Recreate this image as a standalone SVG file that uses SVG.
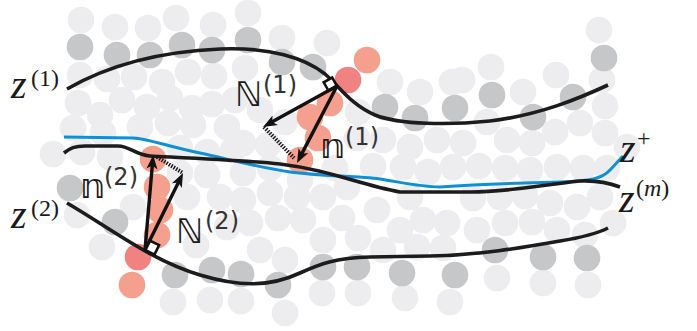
<svg xmlns="http://www.w3.org/2000/svg" width="697" height="331" viewBox="0 0 697 331">
<style>
.l{fill:#ededef}.d{fill:#c6c7c9}.s{fill:#f5a08e}.r{fill:#f08282}
.cv{fill:none;stroke:#1c1c1c;stroke-width:3.6;stroke-linecap:butt}
.bl{fill:none;stroke:#0f8fd8;stroke-width:3}
.ar{fill:none;stroke:#111;stroke-width:3.4}
.dt{fill:none;stroke:#111;stroke-width:4;stroke-dasharray:1.4 1.4}
.sq{fill:#fff;stroke:#111;stroke-width:2.6}
.zi{font-family:"Liberation Serif",serif;font-style:italic;font-size:40px;fill:#1a1a1a}
.zs{font-family:"Liberation Serif",serif;font-size:24px;fill:#1a1a1a}
.bb{font-family:"DejaVu Sans",sans-serif;font-size:34px;fill:#1a1a1a}
.bs{font-family:"DejaVu Sans",sans-serif;font-size:24px;fill:#333}
</style>
<defs>
<marker id="ah" markerUnits="userSpaceOnUse" markerWidth="20" markerHeight="20" refX="0" refY="0" viewBox="-8 -8 20 16" orient="auto" overflow="visible">
<path d="M8,0 L-6,-5.5 L-2.5,0 L-6,5.5 Z" fill="#111"/>
</marker>
</defs>
<g id="particles">
<g class="l">
<circle cx="81" cy="20" r="13.3"/><circle cx="115" cy="27" r="13.3"/><circle cx="148" cy="28" r="13.3"/><circle cx="176" cy="18" r="13.3"/><circle cx="213" cy="25" r="13.3"/><circle cx="248" cy="13" r="13.3"/><circle cx="282" cy="38" r="13.3"/><circle cx="327" cy="43" r="13.3"/>
<circle cx="599" cy="30" r="13.3"/><circle cx="491" cy="67" r="13.3"/><circle cx="556" cy="75" r="13.3"/><circle cx="602" cy="80" r="13.3"/><circle cx="462" cy="80" r="13.3"/><circle cx="390" cy="82" r="13.3"/><circle cx="420" cy="92" r="13.3"/><circle cx="452" cy="82" r="13.3"/><circle cx="523" cy="92" r="13.3"/><circle cx="605" cy="106" r="13.3"/>
<circle cx="80" cy="75" r="13.3"/><circle cx="107" cy="79" r="13.3"/><circle cx="134" cy="77" r="13.3"/><circle cx="162" cy="82" r="13.3"/><circle cx="188" cy="72" r="13.3"/><circle cx="214" cy="76" r="13.3"/><circle cx="245" cy="68" r="13.3"/>
<circle cx="78" cy="103" r="13.3"/><circle cx="100" cy="115" r="13.3"/><circle cx="122" cy="100" r="13.3"/><circle cx="147" cy="107" r="13.3"/><circle cx="170" cy="98" r="13.3"/><circle cx="192" cy="108" r="13.3"/><circle cx="212" cy="104" r="13.3"/><circle cx="235" cy="100" r="13.3"/><circle cx="260" cy="110" r="13.3"/>
<circle cx="73" cy="128" r="13.3"/><circle cx="103" cy="133" r="13.3"/><circle cx="140" cy="127" r="13.3"/><circle cx="168" cy="123" r="13.3"/><circle cx="193" cy="125" r="13.3"/><circle cx="227" cy="127" r="13.3"/>
<circle cx="53" cy="154" r="13.3"/><circle cx="82" cy="152" r="13.3"/><circle cx="110" cy="157" r="13.3"/><circle cx="180" cy="148" r="13.3"/><circle cx="207" cy="152" r="13.3"/><circle cx="233" cy="150" r="13.3"/>
<circle cx="243" cy="143" r="13.3"/><circle cx="268" cy="145" r="13.3"/><circle cx="285" cy="122" r="13.3"/><circle cx="358" cy="112" r="13.3"/><circle cx="357" cy="138" r="13.3"/><circle cx="383" cy="140" r="13.3"/><circle cx="410" cy="147" r="13.3"/><circle cx="437" cy="140" r="13.3"/><circle cx="463" cy="143" r="13.3"/>
<circle cx="487" cy="122" r="13.3"/><circle cx="580" cy="123" r="13.3"/><circle cx="507" cy="140" r="13.3"/><circle cx="532" cy="143" r="13.3"/><circle cx="555" cy="132" r="13.3"/><circle cx="605" cy="133" r="13.3"/><circle cx="627" cy="147" r="13.3"/>
<circle cx="373" cy="166" r="13.3"/><circle cx="403" cy="167" r="13.3"/><circle cx="428" cy="172" r="13.3"/><circle cx="453" cy="167" r="13.3"/><circle cx="479" cy="166" r="13.3"/><circle cx="505" cy="168" r="13.3"/><circle cx="530" cy="170" r="13.3"/><circle cx="557" cy="167" r="13.3"/><circle cx="583" cy="168" r="13.3"/><circle cx="607" cy="168" r="13.3"/>
<circle cx="243" cy="173" r="13.3"/><circle cx="270" cy="168" r="13.3"/><circle cx="300" cy="180" r="13.3"/><circle cx="335" cy="168" r="13.3"/>
<circle cx="243" cy="200" r="13.3"/><circle cx="270" cy="193" r="13.3"/><circle cx="297" cy="197" r="13.3"/><circle cx="323" cy="197" r="13.3"/><circle cx="347" cy="187" r="13.3"/><circle cx="377" cy="210" r="13.3"/><circle cx="410" cy="197" r="13.3"/><circle cx="423" cy="220" r="13.3"/><circle cx="447" cy="223" r="13.3"/>
<circle cx="250" cy="223" r="13.3"/><circle cx="278" cy="218" r="13.3"/><circle cx="303" cy="220" r="13.3"/><circle cx="342" cy="218" r="13.3"/><circle cx="323" cy="240" r="13.3"/><circle cx="358" cy="238" r="13.3"/><circle cx="383" cy="250" r="13.3"/><circle cx="400" cy="230" r="13.3"/><circle cx="260" cy="250" r="13.3"/><circle cx="285" cy="260" r="13.3"/><circle cx="417" cy="247" r="13.3"/><circle cx="443" cy="248" r="13.3"/>
<circle cx="473" cy="198" r="13.3"/><circle cx="500" cy="197" r="13.3"/><circle cx="525" cy="196" r="13.3"/><circle cx="550" cy="203" r="13.3"/><circle cx="577" cy="207" r="13.3"/><circle cx="600" cy="197" r="13.3"/><circle cx="613" cy="223" r="13.3"/><circle cx="477" cy="230" r="13.3"/><circle cx="505" cy="223" r="13.3"/><circle cx="532" cy="222" r="13.3"/><circle cx="557" cy="230" r="13.3"/><circle cx="585" cy="235" r="13.3"/>
<circle cx="77" cy="215" r="13.3"/><circle cx="102" cy="247" r="13.3"/><circle cx="133" cy="207" r="13.3"/><circle cx="180" cy="173" r="13.3"/><circle cx="187" cy="197" r="13.3"/><circle cx="207" cy="175" r="13.3"/><circle cx="220" cy="197" r="13.3"/><circle cx="196" cy="245" r="13.3"/><circle cx="227" cy="227" r="13.3"/>
<circle cx="173" cy="302" r="13.3"/><circle cx="210" cy="300" r="13.3"/><circle cx="241" cy="301" r="13.3"/><circle cx="285" cy="313" r="13.3"/><circle cx="322" cy="293" r="13.3"/><circle cx="358" cy="293" r="13.3"/><circle cx="405" cy="298" r="13.3"/><circle cx="450" cy="302" r="13.3"/><circle cx="497" cy="278" r="13.3"/><circle cx="543" cy="283" r="13.3"/><circle cx="588" cy="285" r="13.3"/>
</g>
<g class="d">
<circle cx="80" cy="47" r="13.3"/><circle cx="117" cy="55" r="13.3"/><circle cx="150" cy="55" r="13.3"/><circle cx="182" cy="45" r="13.3"/><circle cx="212" cy="50" r="13.3"/><circle cx="248" cy="40" r="13.3"/><circle cx="282" cy="62" r="13.3"/><circle cx="313" cy="67" r="13.3"/>
<circle cx="604" cy="58" r="13.3"/><circle cx="492" cy="95" r="13.3"/><circle cx="573" cy="97" r="13.3"/><circle cx="533" cy="117" r="13.3"/><circle cx="385" cy="107" r="13.3"/><circle cx="415" cy="118" r="13.3"/><circle cx="455" cy="108" r="13.3"/>
<circle cx="70" cy="188" r="13.3"/><circle cx="115" cy="222" r="13.3"/>
<circle cx="175" cy="275" r="13.3"/><circle cx="212" cy="270" r="13.3"/><circle cx="241" cy="274" r="13.3"/><circle cx="278" cy="285" r="13.3"/><circle cx="323" cy="267" r="13.3"/><circle cx="357" cy="267" r="13.3"/><circle cx="402" cy="273" r="13.3"/><circle cx="455" cy="275" r="13.3"/><circle cx="495" cy="250" r="13.3"/><circle cx="543" cy="257" r="13.3"/><circle cx="587" cy="258" r="13.3"/>
</g>
<g class="s">
<circle cx="367" cy="60" r="13.3"/><circle cx="330" cy="103" r="13.3"/><circle cx="310" cy="117" r="13.3"/><circle cx="318" cy="138" r="13.3"/><circle cx="300" cy="160" r="13.3"/>
<circle cx="153" cy="159" r="13.3"/><circle cx="157" cy="187" r="13.3"/><circle cx="160" cy="210" r="13.3"/><circle cx="157" cy="235" r="13.3"/><circle cx="132" cy="285" r="13.3"/>
</g>
<g class="r">
<circle cx="348" cy="80" r="13.3"/><circle cx="138" cy="257" r="13.3"/>
</g>
</g>
<g id="curves">
<path id="z1" class="cv" d="M67,89 C100,70 150,52 220,49 C270,47 305,58 325,74 C340,87 350,104 375,115 C400,125 450,125 490,121 C540,115 580,98 608,85"/>
<path id="zplus" class="bl" d="M64,137 L133,138 C150,139 165,146 200,153 C225,158 250,166 290,172 C320,176 355,176 380,179 C400,182 420,187 440,187 C470,185 520,183 560,182 C590,181 602,179 610,170 C615,165 619,160 623,156"/>
<path id="zm" class="cv" d="M64,153 C70,148 75,146 85,146 L118,146 C130,146 135,155 150,156 C190,158 240,160 280,164 C330,170 360,185 400,192 L470,192 C510,192 540,185 580,181 C600,180 612,184 620,187"/>
<path id="z2" class="cv" d="M67,203 C110,228 150,260 200,275 C240,287 270,287 300,273 C320,264 335,258 370,257 L430,256 C480,255 520,248 560,241 C585,237 600,232 608,228"/>
</g>
<g id="normal1">
<path class="sq" d="M337,86 L328.5,90.8 L323.7,82.3 L332.2,77.5 Z"/>
<path class="dt" d="M264,127 L294,158"/>
<path class="ar" d="M337,86 L270,123.1" marker-end="url(#ah)"/>
<path class="ar" d="M337,86 L300.7,155.9" marker-end="url(#ah)"/>
</g>
<g id="normal2">
<path class="sq" d="M145,250 L149.6,240.5 L159.1,245.1 L154.5,254.6 Z"/>
<path class="dt" d="M157,157 L183,173"/>
<path class="ar" d="M145,250 L179.5,180.2" marker-end="url(#ah)"/>
<path class="ar" d="M145,250 L152.5,163" marker-end="url(#ah)"/>
</g>
<g id="labels">
<text class="zi" x="11" y="98">z</text><text class="zs" x="31" y="86">(1)</text>
<text class="zi" x="11" y="228">z</text><text class="zs" x="31" y="216">(2)</text>
<text class="zi" x="620" y="162">z</text><text class="zs" x="637" y="146">+</text>
<text class="zi" x="619" y="212">z</text><text class="zs" x="636" y="196">(<tspan font-style="italic">m</tspan>)</text>
<text class="bb" x="235" y="106">ℕ</text><text class="bs" x="263" y="93">(1)</text>
<text class="bb" x="320" y="158">𝕟</text><text class="bs" x="345" y="145">(1)</text>
<text class="bb" x="80" y="198">𝕟</text><text class="bs" x="104" y="185">(2)</text>
<text class="bb" x="176" y="243">ℕ</text><text class="bs" x="205" y="229">(2)</text>
</g>
</svg>
